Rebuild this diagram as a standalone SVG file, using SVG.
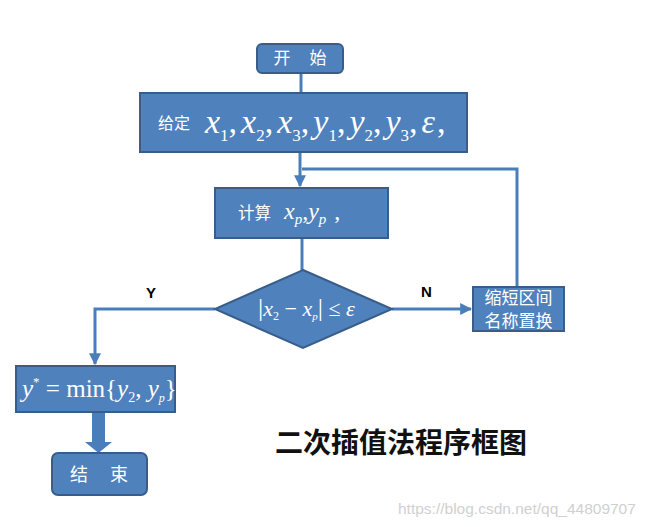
<svg xmlns="http://www.w3.org/2000/svg" width="651" height="527" viewBox="0 0 651 527">
<defs>
<style>
.box{fill:#4f81bd;stroke:#385d8a;stroke-width:2}
.cn{font-family:"Noto Sans CJK SC","Noto Sans",sans-serif;fill:#fff}
.m{font-family:"Liberation Serif","Times New Roman",serif;font-style:italic;fill:#fff}
.r{font-style:normal}
.ln{fill:none;stroke:#4a7ebb;stroke-width:3}
.lbl{font-family:"Liberation Sans",Arial,sans-serif;font-weight:bold;font-size:15px;fill:#000}
</style>
<marker id="ah" viewBox="0 0 10 10" refX="9" refY="5" markerWidth="4" markerHeight="4" orient="auto" markerUnits="strokeWidth">
<path d="M0,0 L10,5 L0,10 z" fill="#4a7ebb"/>
</marker>
</defs>
<rect width="651" height="527" fill="#fff"/>
<g id="connectors">
<path class="ln" d="M301,73 V93"/>
<path class="ln" d="M300,152 V186" marker-end="url(#ah)" stroke-width="4"/>
<path class="ln" d="M517,287 V169 H302"/>
<path class="ln" d="M302,238 V270"/>
<path class="ln" d="M392,309 H471" marker-end="url(#ah)"/>
<path class="ln" d="M215,309 H95 V364" marker-end="url(#ah)"/>
<path d="M92,413 H105 V442 H112 L98.5,453 L85,442 H92 Z" fill="#4a7ebb"/>
</g>
<g id="start">
<rect class="box" x="257" y="44" width="86" height="29" rx="5"/>
<text class="cn" x="282" y="64" font-size="17" text-anchor="middle">开</text>
<text class="cn" x="318" y="64" font-size="17" text-anchor="middle">始</text>
</g>
<g id="given">
<rect class="box" x="140" y="93" width="327" height="59"/>
<text class="cn" x="158" y="129" font-size="16">给定</text>
<text class="m" x="205" y="133" font-size="34">x<tspan class="r" font-size="17" dy="8">1</tspan><tspan class="r" dy="-8">,</tspan><tspan dx="4">x</tspan><tspan class="r" font-size="17" dy="8">2</tspan><tspan class="r" dy="-8">,</tspan><tspan dx="4">x</tspan><tspan class="r" font-size="17" dy="8">3</tspan><tspan class="r" dy="-8">,</tspan><tspan dx="4">y</tspan><tspan class="r" font-size="17" dy="8">1</tspan><tspan class="r" dy="-8">,</tspan><tspan dx="4">y</tspan><tspan class="r" font-size="17" dy="8">2</tspan><tspan class="r" dy="-8">,</tspan><tspan dx="4">y</tspan><tspan class="r" font-size="17" dy="8">3</tspan><tspan class="r" dy="-8">,</tspan><tspan dx="4">ε</tspan><tspan class="r" dx="2">,</tspan></text>
</g>
<g id="compute">
<rect class="box" x="215" y="188" width="173" height="50"/>
<text class="cn" x="238" y="219" font-size="16.5">计算</text>
<text class="m" x="284" y="219" font-size="24">x<tspan font-size="15" dy="5">p</tspan><tspan class="r" dy="-5">,</tspan>y<tspan font-size="15" dy="5">p</tspan><tspan class="r" dy="-5" dx="8">,</tspan></text>
</g>
<g id="decision">
<polygon class="box" points="303,270 392,309 303,348 215,309"/>
<text class="m" x="258" y="316" font-size="22"><tspan class="r" font-size="26">|</tspan>x<tspan class="r" font-size="12" dy="4">2</tspan><tspan class="r" dy="-4"> − </tspan>x<tspan font-size="11" dy="4">p</tspan><tspan class="r" dy="-4" font-size="26">|</tspan><tspan class="r"> ≤ </tspan>ε</text>
</g>
<g id="shrink">
<rect class="box" x="473" y="287" width="91" height="44"/>
<text class="cn" x="518.5" y="304" font-size="17" text-anchor="middle">缩短区间</text>
<text class="cn" x="518.5" y="327" font-size="17" text-anchor="middle">名称置换</text>
</g>
<g id="result">
<rect class="box" x="16" y="366" width="159" height="46"/>
<text class="m" x="22" y="397" font-size="25">y<tspan class="r" font-size="13" dy="-11">*</tspan><tspan class="r" dy="11"> = min{</tspan>y<tspan class="r" font-size="14" dy="5">2</tspan><tspan class="r" dy="-5">, </tspan>y<tspan font-size="12" dy="5">p</tspan><tspan class="r" dy="-5">}</tspan></text>
</g>
<g id="end">
<rect class="box" x="52" y="453" width="95" height="42" rx="6"/>
<text class="cn" x="79" y="481" font-size="18" text-anchor="middle">结</text>
<text class="cn" x="119" y="481" font-size="18" text-anchor="middle">束</text>
</g>
<text class="lbl" x="146" y="298">Y</text>
<text class="lbl" x="421" y="297">N</text>
<text x="275" y="453" font-family="'Noto Sans CJK SC',sans-serif" font-weight="bold" font-size="28" fill="#111">二次插值法程序框图</text>
<text x="398" y="514" font-family="'Liberation Sans',Arial,sans-serif" font-size="15.5" fill="#d0d0d0">https://blog.csdn.net/qq_44809707</text>
</svg>
